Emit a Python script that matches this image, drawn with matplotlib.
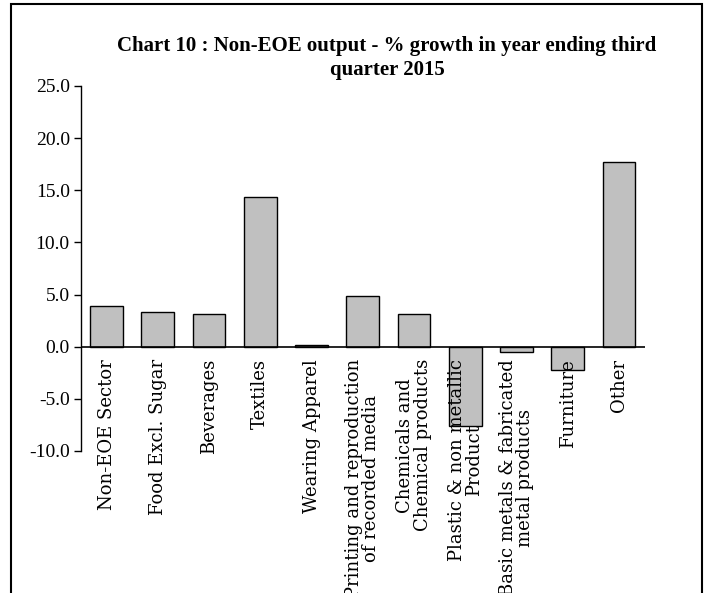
import matplotlib
matplotlib.use('Agg')
import matplotlib.pyplot as plt
from matplotlib.patches import Rectangle

# data
categories = ['Non-EOE Sector', 'Food Excl. Sugar', 'Beverages', 'Textiles',
              'Wearing Apparel', 'Printing and reproduction\nof recorded media',
              'Chemicals and\nChemical products', 'Plastic & non metallic\nProduct',
              'Basic metals & fabricated\nmetal products', 'Furniture', 'Other']
growth = [3.9, 3.3, 3.1, 14.4, 0.2, 4.9, 3.1, -7.6, -0.5, -2.2, 17.7]
yticks = [-10.0, -5.0, 0.0, 5.0, 10.0, 15.0, 20.0, 25.0]

plt.rcParams['font.family'] = ['Liberation Serif', 'DejaVu Serif']

fig = plt.figure(figsize=(7.1, 5.93), dpi=100)
ax = fig.add_axes([0.114, 0.2395, 0.794, 0.6155])

x = list(range(len(categories)))
ax.bar(x, growth, width=0.64, color='#c0c0c0', edgecolor='black', linewidth=1.0, zorder=2)
ax.axhline(0, color='black', linewidth=1.2, zorder=3)

ax.set_xlim(-0.5, len(categories) - 0.5)
ax.set_ylim(-10, 25)
ax.set_yticks(yticks)
ax.set_yticklabels(['%.1f' % v for v in yticks], fontsize=14)
ax.tick_params(axis='y', direction='out', length=5, width=1, pad=3)
ax.set_xticks([])
for s in ['top', 'right', 'bottom']:
    ax.spines[s].set_visible(False)
ax.spines['left'].set_linewidth(1.0)

# category names are wider-spaced in the original, DejaVu Serif gets closer
for i, lab in enumerate(categories):
    ax.text(i, -1.2, lab, rotation=90, ha='center', va='top', fontsize=13,
            family='DejaVu Serif', linespacing=0.95, zorder=4, clip_on=False)

fig.text(0.545, 0.902, 'Chart 10 : Non-EOE output - % growth in year ending third\nquarter 2015',
         ha='center', va='center', fontsize=15, fontweight='bold', linespacing=1.3)

# outer frame like the pasted chart box
fig.patches.append(Rectangle((0.0155, -0.01), 0.973, 1.003, transform=fig.transFigure,
                             fill=False, edgecolor='black', linewidth=1.5))

fig.savefig('out.png', dpi=100)
